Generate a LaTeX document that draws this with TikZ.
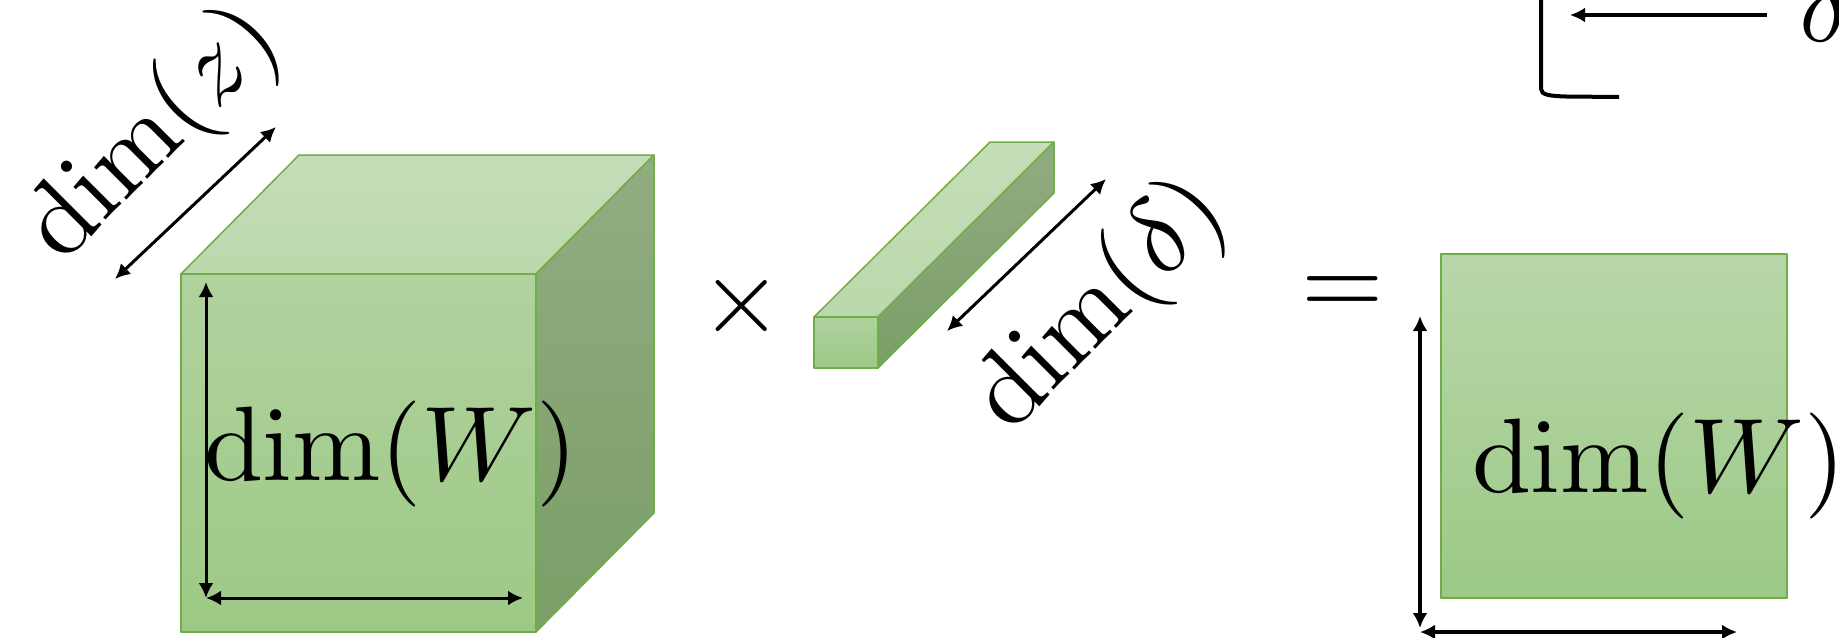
\documentclass[tikz,border=0pt]{standalone}
\usetikzlibrary{arrows.meta}
\definecolor{edgegreen}{HTML}{70AD47}
\definecolor{frontTop}{HTML}{B0D29E}
\definecolor{frontBot}{HTML}{9DC985}
\definecolor{topTop}{HTML}{C5DDB8}
\definecolor{topBot}{HTML}{BBD8AC}
\definecolor{sideTop}{HTML}{91AC82}
\definecolor{sideBot}{HTML}{7B9F67}
\definecolor{sqTop}{HTML}{B8D7A9}
\definecolor{sqBot}{HTML}{9CC986}
\begin{document}
\begin{tikzpicture}[x=0.5pt,y=-0.5pt,
  face/.style={draw=edgegreen, line width=0.75pt, line join=round},
  frontface/.style={face, top color=frontTop, bottom color=frontBot},
  topface/.style={face, top color=topTop, bottom color=topBot},
  sideface/.style={face, top color=sideTop, bottom color=sideBot},
  sqface/.style={face, top color=sqTop, bottom color=sqBot},
  tipA/.tip={Latex[length=7.5pt,width=7.5pt]},
  dimarrow/.style={tipA-tipA, line width=1.5pt},
  dimarrowB/.style={tipA-tipA, line width=1.9pt},
  lbl/.style={font=\normalsize, inner sep=0pt, scale=5.3}
]
\useasboundingbox (0,0) rectangle (1839,637);
\clip (0,0) rectangle (1839,637);

% ---------- cube ----------
\coordinate (cFTL) at (181,274);
\coordinate (cFTR) at (536,274);
\coordinate (cFBR) at (536,632);
\coordinate (cFBL) at (181,632);
\coordinate (cBTL) at (299,155);
\coordinate (cBTR) at (654,155);
\coordinate (cBBR) at (654,513);
\path[topface] (cFTL) -- (cBTL) -- (cBTR) -- (cFTR) -- cycle;
\path[sideface] (cFTR) -- (cBTR) -- (cBBR) -- (cFBR) -- cycle;
\path[frontface] (cFTL) rectangle (cFBR);

% cube arrows
\coordinate (cA1) at (206,282);
\coordinate (cA0) at (206,598);
\coordinate (cA2) at (523,598);
\draw[dimarrow] (cA1) -- (cA0);
\draw[dimarrow] (cA0) -- (cA2);
\node[lbl] (lblW1) at (391,454) {$\dim(W)$};

% dim(z)
\coordinate (zA) at (115,279);
\coordinate (zB) at (276,127);
\draw[dimarrow] (zA) -- (zB);
\node[lbl, rotate=45] (lblZ) at (154,135) {$\dim(z)$};

% times
\node[lbl] (times) at (742,306) {$\times$};

% ---------- bar ----------
\coordinate (bFTL) at (814,317);
\coordinate (bFTR) at (878,317);
\coordinate (bFBR) at (878,368);
\coordinate (bBTL) at (990,142);
\coordinate (bBTR) at (1054,142);
\coordinate (bBBR) at (1054,193);
\path[topface] (bFTL) -- (bBTL) -- (bBTR) -- (bFTR) -- cycle;
\path[sideface] (bFTR) -- (bBTR) -- (bBBR) -- (bFBR) -- cycle;
\path[frontface] (bFTL) rectangle (bFBR);

% dim(delta)
\coordinate (dA) at (947,331);
\coordinate (dB) at (1106,179);
\draw[dimarrow] (dA) -- (dB);
\node[lbl, rotate=45] (lblD) at (1101,306) {$\dim(\delta)$};

% equals
\node[lbl] (eq) at (1343,296) {$=$};

% ---------- square ----------
\path[sqface] (1441,254) rectangle (1787,598);
\coordinate (sA1) at (1420,316);
\coordinate (sA0) at (1420,628);
\coordinate (sC0) at (1420,632);
\coordinate (sA2) at (1737,632);
\draw[dimarrowB] (sA1) -- (sA0);
\draw[dimarrowB] (sC0) -- (sA2);
\node[lbl] (lblW2) at (1659,466) {$\dim(W)$};

% ---------- top right fragment ----------
\coordinate (brT) at (1541,-5);
\coordinate (brE) at (1619,97);
\draw[line width=2pt] (brT) -- (1541,89) .. controls (1541,95) and (1550,96) .. (1566,96.5) -- (brE);
\coordinate (arS) at (1767,15);
\coordinate (arE) at (1570,15);
\draw[-tipA, line width=1.6pt] (arS) -- (arE);
\node[lbl, anchor=base west] (dl) at (1797,41) {$\delta$};
\end{tikzpicture}
\end{document}
